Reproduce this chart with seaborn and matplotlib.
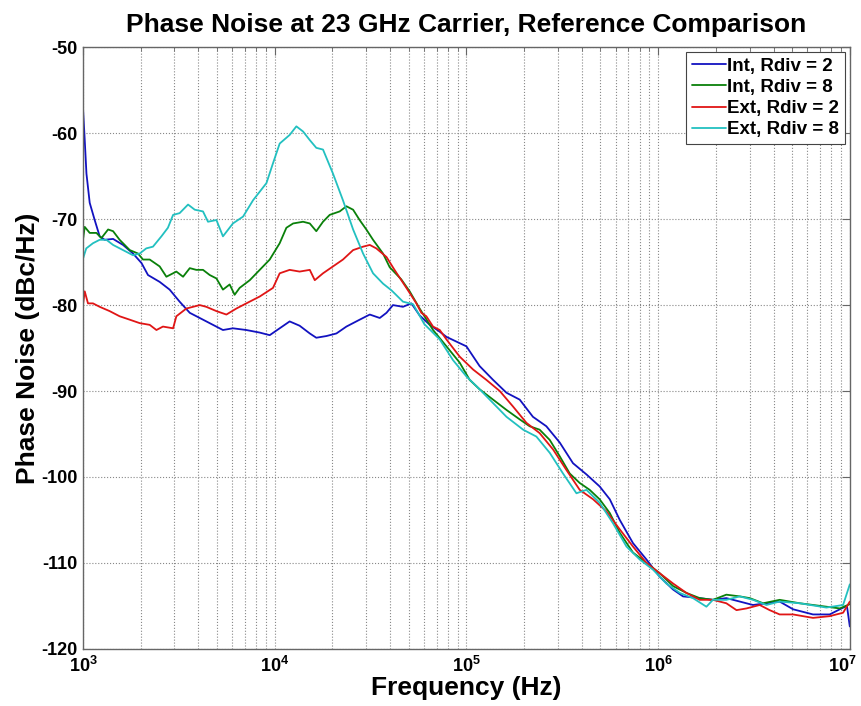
import numpy as np
import pandas as pd
import matplotlib
matplotlib.use("Agg")
import matplotlib.pyplot as plt
import matplotlib.transforms as mtransforms
import seaborn as sns
from matplotlib.ticker import LogLocator, FixedLocator, FixedFormatter, NullFormatter

# log10(frequency in Hz) and phase noise (dBc/Hz)
int2_logf = [3.000, 3.009, 3.018, 3.035, 3.061, 3.087, 3.113, 3.157, 3.209, 3.261,
             3.305, 3.339, 3.400, 3.452, 3.504, 3.557, 3.609, 3.678, 3.730, 3.782,
             3.852, 3.922, 3.974, 4.026, 4.078, 4.130, 4.183, 4.217, 4.270, 4.322,
             4.374, 4.443, 4.496, 4.548, 4.583, 4.617, 4.669, 4.713, 4.756, 4.809,
             4.861, 4.896, 5.000, 5.069, 5.139, 5.209, 5.278, 5.347, 5.417, 5.487,
             5.556, 5.626, 5.695, 5.748, 5.800, 5.869, 5.939, 6.008, 6.078, 6.130,
             6.217, 6.286, 6.356, 6.426, 6.495, 6.565, 6.634, 6.704, 6.808, 6.895,
             6.948, 6.985, 7.000]
int2_db = [-57.1, -60.8, -64.7, -68.1, -70.1, -72.0, -72.4, -72.3, -73.0, -74.0,
           -75.1, -76.5, -77.3, -78.2, -79.6, -80.9, -81.5, -82.3, -82.9, -82.7,
           -82.9, -83.2, -83.5, -82.7, -81.9, -82.4, -83.3, -83.8, -83.6, -83.3,
           -82.5, -81.7, -81.1, -81.5, -80.9, -80.0, -80.2, -79.8, -81.2, -82.3,
           -83.1, -83.7, -84.8, -87.1, -88.7, -90.2, -91.0, -93.0, -94.1, -96.0,
           -98.4, -99.7, -101.1, -102.6, -105.0, -107.7, -109.6, -111.6, -113.1, -113.9,
           -114.1, -114.3, -114.1, -114.5, -114.9, -114.7, -114.5, -115.4, -116.0, -116.0,
           -115.4, -115.0, -117.4]

int8_logf = [3.000, 3.009, 3.035, 3.070, 3.096, 3.131, 3.157, 3.191, 3.244, 3.287,
             3.313, 3.348, 3.400, 3.435, 3.487, 3.522, 3.557, 3.591, 3.626, 3.661,
             3.696, 3.730, 3.765, 3.791, 3.817, 3.870, 3.922, 3.974, 4.026, 4.061,
             4.096, 4.148, 4.183, 4.217, 4.252, 4.287, 4.339, 4.374, 4.409, 4.443,
             4.478, 4.513, 4.565, 4.600, 4.660, 4.704, 4.756, 4.826, 4.896, 4.965,
             5.017, 5.069, 5.139, 5.209, 5.278, 5.330, 5.382, 5.435, 5.487, 5.539,
             5.591, 5.643, 5.695, 5.748, 5.800, 5.869, 5.939, 6.008, 6.078, 6.148,
             6.217, 6.286, 6.356, 6.426, 6.478, 6.548, 6.634, 6.739, 6.878, 6.948,
             7.000]
int8_db = [-72.4, -70.9, -71.6, -71.6, -72.2, -71.2, -71.4, -72.4, -73.6, -74.0,
           -74.7, -74.7, -75.5, -76.7, -76.1, -76.7, -75.7, -75.9, -75.9, -76.5,
           -76.9, -78.2, -77.6, -78.8, -78.0, -77.1, -75.9, -74.7, -72.8, -71.0,
           -70.5, -70.3, -70.5, -71.4, -70.3, -69.5, -69.1, -68.5, -68.9, -70.1,
           -71.2, -72.4, -74.0, -75.6, -77.0, -78.4, -80.4, -82.9, -84.8, -86.7,
           -88.7, -89.8, -91.0, -92.2, -93.3, -94.1, -94.5, -95.7, -97.6, -99.6,
           -100.7, -101.5, -102.6, -104.2, -106.5, -108.8, -110.0, -111.2, -112.7, -113.5,
           -114.1, -114.3, -113.7, -113.9, -114.1, -114.7, -114.3, -114.7, -115.1, -115.3,
           -114.8]

ext2_logf = [3.000, 3.009, 3.026, 3.052, 3.087, 3.139, 3.191, 3.244, 3.296, 3.348,
             3.383, 3.417, 3.470, 3.487, 3.539, 3.609, 3.643, 3.696, 3.748, 3.800,
             3.852, 3.922, 3.991, 4.026, 4.078, 4.130, 4.183, 4.209, 4.252, 4.304,
             4.356, 4.409, 4.461, 4.496, 4.530, 4.583, 4.625, 4.690, 4.739, 4.765,
             4.791, 4.826, 4.861, 4.896, 4.965, 5.035, 5.104, 5.174, 5.243, 5.313,
             5.382, 5.452, 5.522, 5.591, 5.661, 5.730, 5.800, 5.869, 5.939, 6.008,
             6.078, 6.148, 6.217, 6.286, 6.356, 6.409, 6.461, 6.530, 6.582, 6.634,
             6.704, 6.808, 6.895, 6.965, 7.000]
ext2_db = [-80.0, -78.4, -79.8, -79.8, -80.2, -80.7, -81.3, -81.7, -82.1, -82.3,
           -82.9, -82.5, -82.7, -81.3, -80.4, -80.0, -80.2, -80.7, -81.1, -80.4,
           -79.8, -79.0, -78.0, -76.3, -75.9, -76.1, -75.9, -77.1, -76.3, -75.5,
           -74.7, -73.6, -73.2, -73.0, -73.4, -74.4, -75.9, -78.1, -79.8, -80.9,
           -81.3, -82.5, -82.9, -84.0, -86.0, -87.5, -88.7, -90.0, -91.8, -93.7,
           -94.9, -96.8, -99.2, -101.5, -102.6, -104.0, -106.1, -108.1, -110.0, -111.2,
           -112.4, -113.5, -114.3, -114.3, -114.7, -115.5, -115.3, -114.9, -115.5, -116.0,
           -116.0, -116.4, -116.2, -115.8, -114.5]

ext8_logf = [3.000, 3.017, 3.052, 3.087, 3.122, 3.157, 3.209, 3.261, 3.296, 3.330,
             3.365, 3.409, 3.443, 3.470, 3.504, 3.548, 3.583, 3.626, 3.652, 3.696,
             3.730, 3.782, 3.835, 3.887, 3.957, 3.991, 4.026, 4.078, 4.113, 4.148,
             4.183, 4.217, 4.252, 4.304, 4.356, 4.409, 4.461, 4.513, 4.565, 4.610,
             4.669, 4.722, 4.740, 4.780, 4.861, 4.930, 5.000, 5.069, 5.139, 5.209,
             5.296, 5.365, 5.435, 5.504, 5.574, 5.626, 5.695, 5.765, 5.835, 5.904,
             5.974, 6.043, 6.113, 6.182, 6.252, 6.286, 6.356, 6.426, 6.495, 6.565,
             6.634, 6.739, 6.878, 6.965, 7.000]
ext8_db = [-74.6, -73.4, -72.8, -72.4, -72.4, -73.0, -73.6, -74.2, -74.0, -73.4,
           -73.2, -72.0, -71.0, -69.5, -69.3, -68.3, -68.9, -69.1, -70.3, -70.1,
           -72.0, -70.5, -69.7, -67.8, -65.8, -63.5, -61.2, -60.2, -59.2, -59.8,
           -60.8, -61.7, -61.9, -64.7, -67.8, -71.2, -74.0, -76.3, -77.5, -78.3,
           -79.6, -79.9, -80.6, -82.2, -84.0, -86.4, -88.3, -89.8, -91.4, -93.0,
           -94.5, -95.3, -97.2, -99.6, -101.9, -101.5, -103.0, -105.4, -108.1, -109.6,
           -110.8, -112.4, -113.5, -114.1, -115.1, -114.3, -114.3, -113.9, -114.3, -114.9,
           -114.5, -114.7, -115.2, -114.9, -112.5]

series_names = ["Int, Rdiv = 2", "Int, Rdiv = 8", "Ext, Rdiv = 2", "Ext, Rdiv = 8"]
series_colors = ["#1212c0", "#0a800a", "#e01515", "#22c0c0"]
xtick_labels = [r"$10^{3}$", r"$10^{4}$", r"$10^{5}$", r"$10^{6}$", r"$10^{7}$"]

frames = []
for name, lf, db in zip(series_names,
                        [int2_logf, int8_logf, ext2_logf, ext8_logf],
                        [int2_db, int8_db, ext2_db, ext8_db]):
    frames.append(pd.DataFrame({"freq": 10 ** np.array(lf), "pn": db, "series": name}))
df = pd.concat(frames, ignore_index=True)

sns.set_style("white")
plt.rcParams["font.family"] = ["Liberation Sans", "DejaVu Sans"]
plt.rcParams["font.weight"] = "bold"
plt.rcParams["text.color"] = "black"
plt.rcParams["axes.labelcolor"] = "black"
plt.rcParams["axes.unicode_minus"] = False
plt.rcParams["mathtext.fontset"] = "custom"
plt.rcParams["mathtext.rm"] = "Liberation Sans:bold"
plt.rcParams["mathtext.bf"] = "Liberation Sans:bold"
plt.rcParams["mathtext.it"] = "Liberation Sans:bold"

fig, ax = plt.subplots(figsize=(8.61, 7.06), dpi=100)
fig.subplots_adjust(left=0.0964, right=0.987, top=0.933, bottom=0.081)

sns.lineplot(data=df, x="freq", y="pn", hue="series", hue_order=series_names,
             palette=series_colors, estimator=None, sort=False, linewidth=1.3, ax=ax)

ax.set_xscale("log")
ax.set_xlim(1e3, 1e7)
ax.set_ylim(-120, -50)
ax.set_yticks(np.arange(-120, -49, 10))
ax.xaxis.set_major_locator(FixedLocator([1e3, 1e4, 1e5, 1e6, 1e7]))
ax.xaxis.set_major_formatter(FixedFormatter(xtick_labels))
ax.xaxis.set_minor_locator(LogLocator(base=10, subs=np.arange(2, 10), numticks=20))
ax.xaxis.set_minor_formatter(NullFormatter())

ax.grid(True, which="major", linestyle=":", color="#888888", linewidth=0.8)
ax.grid(True, which="minor", axis="x", linestyle=":", color="#888888", linewidth=0.8)

for sp in ax.spines.values():
    sp.set_visible(True)
    sp.set_color("#666666")
    sp.set_linewidth(1.0)
ax.tick_params(which="both", direction="in", top=True, right=True, colors="#666666",
               labelcolor="black", labelsize=13)
ax.tick_params(which="major", length=6)
ax.tick_params(which="minor", length=3)
ax.tick_params(axis="x", pad=5)
ax.tick_params(axis="y", pad=4)

ax.set_title("Phase Noise at 23 GHz Carrier, Reference Comparison",
             fontsize=19, fontweight="bold", pad=11, color="black")
ax.set_xlabel("Frequency (Hz)", fontsize=19, fontweight="bold", labelpad=0)
ax.set_ylabel("Phase Noise (dBc/Hz)", fontsize=19, fontweight="bold", labelpad=1)

# the last tick label sits at the figure edge; nudge it inward so it stays visible
fig.canvas.draw()
last = ax.get_xticklabels()[-1]
last.set_transform(last.get_transform() +
                   mtransforms.ScaledTranslation(-8 / 100, 0, fig.dpi_scale_trans))

handles, labels = ax.get_legend_handles_labels()
leg = ax.legend(handles, labels, loc="upper right", fontsize=13.5, frameon=True,
                fancybox=False, framealpha=1, edgecolor="#444444",
                handlelength=1.8, handletextpad=0.1, labelspacing=0.22,
                borderpad=0.3, borderaxespad=0.25)
for t in leg.get_texts():
    t.set_fontweight("bold")
    t.set_color("black")
leg.get_frame().set_linewidth(0.8)

fig.savefig("out.png", dpi=100)
